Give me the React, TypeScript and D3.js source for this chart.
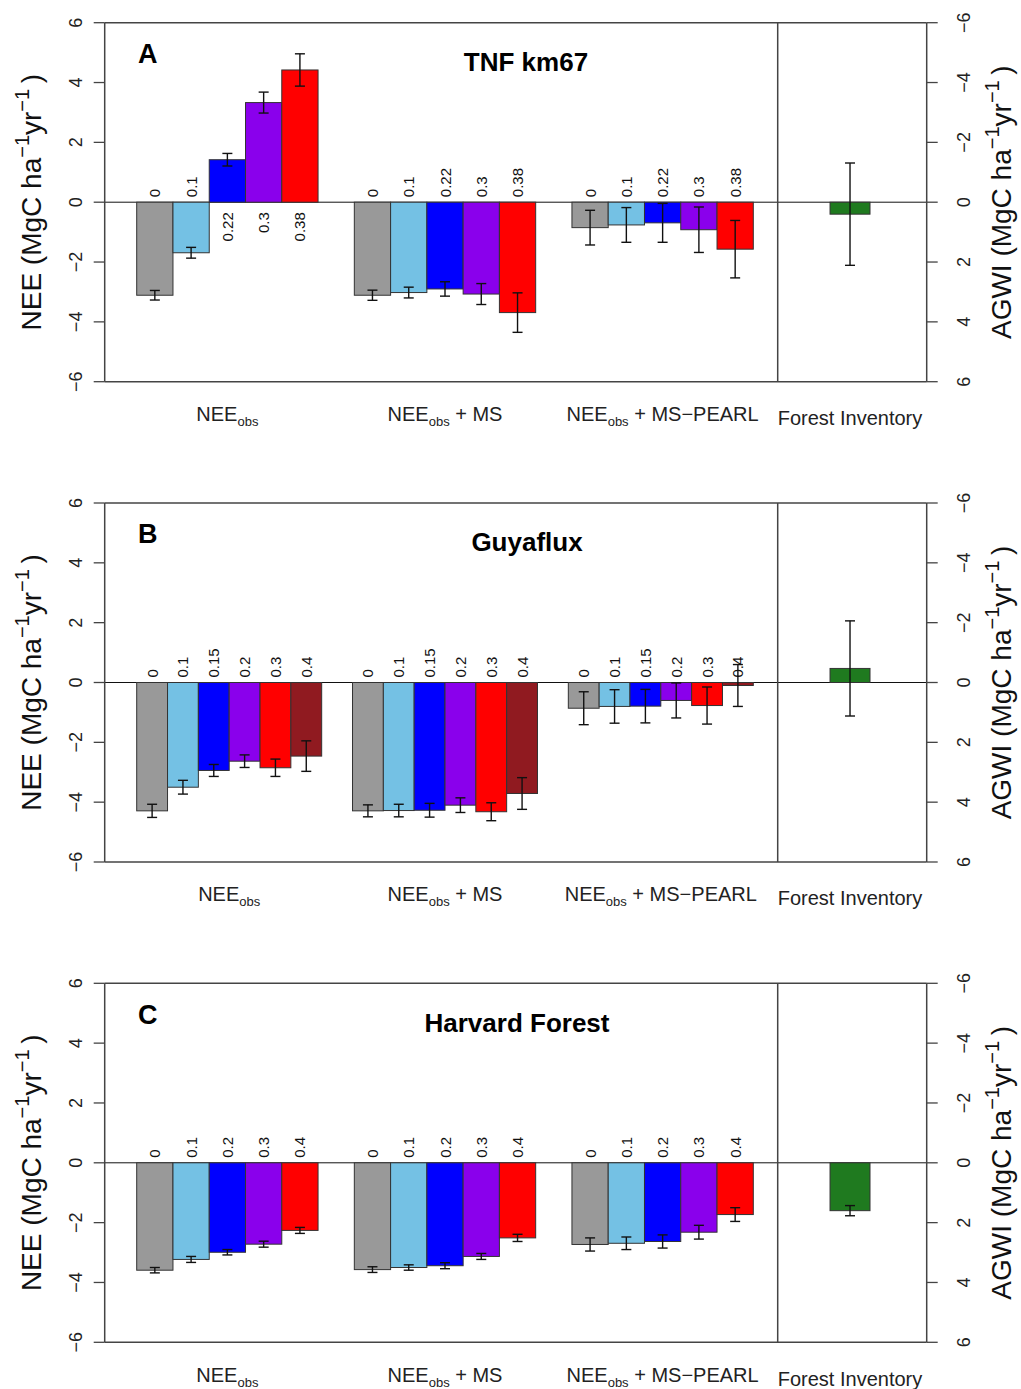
import React from "react";
import * as d3 from "d3";

// ---------- data ----------
const panelLetters = ["A", "B", "C"];
const siteNames = ["TNF km67", "Guyaflux", "Harvard Forest"];
const groupSuffix = ["", " + MS", " + MS\u2212PEARL"];
const forestLabel = "Forest Inventory";

const labelsA = ["0", "0.1", "0.22", "0.3", "0.38"];
const neeObsA = [-3.11, -1.69, 1.42, 3.33, 4.42];
const errObsA = [0.16, 0.18, 0.21, 0.35, 0.54];
const neeMsA = [-3.11, -3.02, -2.9, -3.07, -3.69];
const errMsA = [0.17, 0.18, 0.24, 0.35, 0.66];
const neePearlA = [-0.85, -0.76, -0.69, -0.92, -1.57];
const errPearlA = [0.58, 0.58, 0.65, 0.76, 0.96];
const agwiA = 0.4;
const agwiErrA = 1.71;

const labelsB = ["0", "0.1", "0.15", "0.2", "0.3", "0.4"];
const neeObsB = [-4.29, -3.5, -2.94, -2.63, -2.85, -2.46];
const errObsB = [0.22, 0.23, 0.2, 0.21, 0.29, 0.51];
const neeMsB = [-4.29, -4.28, -4.27, -4.1, -4.32, -3.71];
const errMsB = [0.2, 0.21, 0.23, 0.245, 0.3, 0.53];
const neePearlB = [-0.86, -0.8, -0.79, -0.6, -0.77, -0.1];
const errPearlB = [0.55, 0.56, 0.56, 0.585, 0.62, 0.7];
const agwiB = -0.47;
const agwiErrB = 1.59;

const labelsC = ["0", "0.1", "0.2", "0.3", "0.4"];
const neeObsC = [-3.59, -3.23, -2.99, -2.72, -2.26];
const errObsC = [0.09, 0.1, 0.09, 0.1, 0.1];
const neeMsC = [-3.57, -3.5, -3.44, -3.13, -2.51];
const errMsC = [0.095, 0.09, 0.1, 0.1, 0.12];
const neePearlC = [-2.73, -2.69, -2.63, -2.32, -1.73];
const errPearlC = [0.22, 0.21, 0.22, 0.23, 0.23];
const agwiC = 1.6;
const agwiErrC = 0.17;

const colors5 = ["#999999", "#74C1E4", "#0000FF", "#8A00EC", "#FF0000"];
const colors6 = ["#999999", "#74C1E4", "#0000FF", "#8A00EC", "#FF0000", "#901A20"];
const forestColor = "#1F7A1F";

const yTicks = [-6, -4, -2, 0, 2, 4, 6];

const panels = [
  { labels: labelsA, series: [neeObsA, neeMsA, neePearlA], errs: [errObsA, errMsA, errPearlA], colors: colors5, agwi: agwiA, agwiErr: agwiErrA },
  { labels: labelsB, series: [neeObsB, neeMsB, neePearlB], errs: [errObsB, errMsB, errPearlB], colors: colors6, agwi: agwiB, agwiErr: agwiErrB },
  { labels: labelsC, series: [neeObsC, neeMsC, neePearlC], errs: [errObsC, errMsC, errPearlC], colors: colors5, agwi: agwiC, agwiErr: agwiErrC },
];

// ---------- layout ----------
const W = 1021;
const H = 1389;
const left = 104.7;
const right = 926.7;
const divider = 777.7;
const barsL = 136.7;
const barsR = 753.3;
const plotTop = 22.7;
const plotBottom = 381.7;
const panelStep = 480.3;
const titleX = [526, 527, 517];
const FONT = "'Liberation Sans', Arial, Helvetica, sans-serif";
const AXIS_COL = "#444";

function Panel({ idx }: { idx: number }) {
  const p = panels[idx];
  const off = idx * panelStep;
  const y = d3.scaleLinear().domain([-6, 6]).range([off + plotBottom, off + plotTop]);
  const yR = d3.scaleLinear().domain([-6, 6]).range([off + plotTop, off + plotBottom]);
  const n = p.labels.length;
  const x = d3.scaleLinear().domain([0, 3 * n + 2]).range([barsL, barsR]);
  const bw = x(1) - x(0);
  const xF = d3.scaleBand().domain([forestLabel]).range([divider, right]).padding(0.577).align(0.48);
  const y0 = y(0);
  const cap = 5;
  const midY = (y(6) + y(-6)) / 2;

  const bars: any[] = [];
  p.series.forEach((vals, g) => {
    vals.forEach((v, j) => {
      const xl = x(g * (n + 1) + j);
      const cx = xl + bw / 2;
      const e = p.errs[g][j];
      const yt = y(Math.max(v, 0));
      const h = Math.abs(y(v) - y0);
      bars.push(
        <rect key={`b${g}-${j}`} x={xl} y={yt} width={bw} height={h} fill={p.colors[j]} stroke="#333" strokeWidth={1} />
      );
      bars.push(
        <g key={`e${g}-${j}`} stroke="#111" strokeWidth={1.4}>
          <line x1={cx} x2={cx} y1={y(v - e)} y2={y(v + e)} />
          <line x1={cx - cap} x2={cx + cap} y1={y(v - e)} y2={y(v - e)} />
          <line x1={cx - cap} x2={cx + cap} y1={y(v + e)} y2={y(v + e)} />
        </g>
      );
      const above = v < 0;
      const ly = above ? y0 - 5 : y0 + 10;
      bars.push(
        <text
          key={`l${g}-${j}`}
          transform={`translate(${cx},${ly}) rotate(-90)`}
          textAnchor={above ? "start" : "end"}
          dominantBaseline="central"
          fontSize={15}
          fill="#111"
        >
          {p.labels[j]}
        </text>
      );
    });
  });

  const fx = xF(forestLabel) as number;
  const fw = xF.bandwidth();
  const fcx = fx + fw / 2;
  const a = p.agwi;
  const ae = p.agwiErr;

  return (
    <g fontFamily={FONT}>
      <line x1={left} x2={right} y1={y0} y2={y0} stroke="#111" strokeWidth={1} />
      {bars}
      <rect x={fx} y={Math.min(yR(a), yR(0))} width={fw} height={Math.abs(yR(a) - yR(0))} fill={forestColor} stroke="#333" strokeWidth={1} />
      <g stroke="#111" strokeWidth={1.4}>
        <line x1={fcx} x2={fcx} y1={yR(a - ae)} y2={yR(a + ae)} />
        <line x1={fcx - cap} x2={fcx + cap} y1={yR(a - ae)} y2={yR(a - ae)} />
        <line x1={fcx - cap} x2={fcx + cap} y1={yR(a + ae)} y2={yR(a + ae)} />
      </g>
      <g stroke={AXIS_COL} strokeWidth={1.5} fill="none">
        <line x1={left} x2={right} y1={y(6)} y2={y(6)} />
        <line x1={left} x2={right} y1={y(-6)} y2={y(-6)} />
        <line x1={left} x2={left} y1={y(6)} y2={y(-6)} />
        <line x1={right} x2={right} y1={y(6)} y2={y(-6)} />
        <line x1={divider} x2={divider} y1={y(6)} y2={y(-6)} />
      </g>
      {yTicks.map((t) => (
        <g key={`lt${t}`}>
          <line x1={left - 11} x2={left} y1={y(t)} y2={y(t)} stroke={AXIS_COL} strokeWidth={1.3} />
          <text transform={`translate(${76},${y(t)}) rotate(-90)`} textAnchor="middle" dominantBaseline="central" fontSize={18} fill="#222">
            {d3.format("d")(t)}
          </text>
        </g>
      ))}
      {yTicks.map((t) => (
        <g key={`rt${t}`}>
          <line x1={right} x2={right + 11} y1={yR(t)} y2={yR(t)} stroke={AXIS_COL} strokeWidth={1.3} />
          <text transform={`translate(${964},${yR(t)}) rotate(-90)`} textAnchor="middle" dominantBaseline="central" fontSize={18} fill="#222">
            {d3.format("d")(t)}
          </text>
        </g>
      ))}
      <text transform={`translate(${41},${midY}) rotate(-90)`} textAnchor="middle" fontSize={28} fill="#111">
        <tspan>NEE (MgC ha</tspan>
        <tspan fontSize={20} dy={-12}>{"\u22121"}</tspan>
        <tspan dy={12}>yr</tspan>
        <tspan fontSize={20} dy={-12}>{"\u22121"}</tspan>
        <tspan dy={12}>{"\u2009)"}</tspan>
      </text>
      <text transform={`translate(${1011},${midY}) rotate(-90)`} textAnchor="middle" fontSize={28} fill="#111">
        <tspan>AGWI (MgC ha</tspan>
        <tspan fontSize={20} dy={-12}>{"\u22121"}</tspan>
        <tspan dy={12}>yr</tspan>
        <tspan fontSize={20} dy={-12}>{"\u22121"}</tspan>
        <tspan dy={12}>{"\u2009)"}</tspan>
      </text>
      {groupSuffix.map((s, g) => {
        const cx = (x(g * (n + 1)) + x(g * (n + 1) + n)) / 2;
        return (
          <text key={`g${g}`} x={cx} y={off + 421} textAnchor="middle" fontSize={20} fill="#222">
            <tspan>NEE</tspan>
            <tspan fontSize={13} dy={5}>obs</tspan>
            <tspan dy={-5}>{s}</tspan>
          </text>
        );
      })}
      <text x={fcx} y={off + 425} textAnchor="middle" fontSize={20} fill="#222">
        {forestLabel}
      </text>
      <text x={138} y={off + 63} fontSize={27} fontWeight="bold" fill="#000">
        {panelLetters[idx]}
      </text>
      <text x={titleX[idx]} y={off + 71} textAnchor="middle" fontSize={26} fontWeight="bold" fill="#000">
        {siteNames[idx]}
      </text>
    </g>
  );
}

export default function App() {
  return (
    <svg width={W} height={H} style={{ position: "absolute", left: 0, top: 0, background: "#fff" }}>
      <rect x={0} y={0} width={W} height={H} fill="#fff" />
      {panels.map((_, i) => (
        <Panel key={i} idx={i} />
      ))}
    </svg>
  );
}
